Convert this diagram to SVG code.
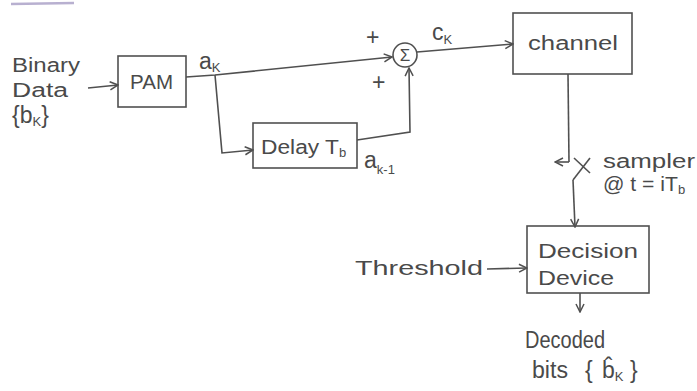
<svg xmlns="http://www.w3.org/2000/svg" width="697" height="391" viewBox="0 0 697 391">
<style>
.box{fill:none;stroke:#505050;stroke-width:1.6}
.ln{fill:none;stroke:#505050;stroke-width:1.6}
.t{font-family:"Liberation Sans",Arial,sans-serif;fill:#4a4a4a;font-size:20px}
.b{font-size:23px}
.sub{font-size:13px}
.sig{font-size:17px}
</style>
<defs>
<marker id="ah" markerWidth="10" markerHeight="10" refX="9" refY="5" orient="auto" markerUnits="userSpaceOnUse">
<path d="M1,1 L9,5 L1,9" fill="none" stroke="#505050" stroke-width="1.5"/>
</marker>
</defs>
<rect width="697" height="391" fill="#ffffff"/>
<line x1="11" y1="4" x2="74" y2="3" stroke="#b8b0d0" stroke-width="2.5"/>
<g id="input">
<text class="t" x="12" y="72" textLength="68" lengthAdjust="spacingAndGlyphs">Binary</text>
<text class="t" x="12" y="97" textLength="56" lengthAdjust="spacingAndGlyphs">Data</text>
<text class="t b" x="12" y="123">{b<tspan class="sub" dy="3">K</tspan><tspan dy="-3">}</tspan></text>
</g>
<g id="pam">
<rect class="box" x="118" y="56" width="68" height="51"/>
<text class="t" x="130" y="89" textLength="43" lengthAdjust="spacingAndGlyphs">PAM</text>
</g>
<g id="delay">
<rect class="box" x="253" y="123" width="104" height="45"/>
<text class="t" x="261" y="154"><tspan textLength="78" lengthAdjust="spacingAndGlyphs">Delay T</tspan><tspan class="sub" dy="3">b</tspan></text>
</g>
<g id="sum">
<circle class="box" cx="405" cy="55" r="12"/>
<text class="t sig" x="405" y="61" text-anchor="middle">Σ</text>
</g>
<g id="channel">
<rect class="box" x="513" y="13" width="119" height="61"/>
<text class="t" x="528" y="50" textLength="90" lengthAdjust="spacingAndGlyphs">channel</text>
</g>
<g id="decision">
<rect class="box" x="527" y="226" width="122" height="67"/>
<text class="t" x="538" y="258" textLength="100" lengthAdjust="spacingAndGlyphs">Decision</text>
<text class="t" x="538" y="285" textLength="76" lengthAdjust="spacingAndGlyphs">Device</text>
</g>
<g id="connectors">
<line class="ln" x1="88" y1="88" x2="118" y2="85" marker-end="url(#ah)"/>
<polyline class="ln" points="186,77 215,75 392,57" marker-end="url(#ah)"/>
<polyline class="ln" points="215,75 222,153 253,150" marker-end="url(#ah)"/>
<polyline class="ln" points="357,140 410,132 409,68" marker-end="url(#ah)"/>
<line class="ln" x1="417" y1="52" x2="513" y2="44" marker-end="url(#ah)"/>
<line class="ln" x1="568" y1="74" x2="569" y2="162"/>
<line class="ln" x1="569" y1="162" x2="555" y2="162" marker-end="url(#ah)"/>
<line class="ln" x1="574" y1="158" x2="590" y2="173"/>
<line class="ln" x1="590" y1="158" x2="573" y2="180"/>
<line class="ln" x1="573" y1="180" x2="575" y2="227" marker-end="url(#ah)"/>
<line class="ln" x1="487" y1="269" x2="527" y2="268" marker-end="url(#ah)"/>
<line class="ln" x1="580" y1="293" x2="580" y2="312" marker-end="url(#ah)"/>
</g>
<g id="labels">
<text class="t b" x="199" y="69">a<tspan class="sub" dy="3">K</tspan></text>
<text class="t b" x="366" y="45">+</text>
<text class="t b" x="372" y="90">+</text>
<text class="t b" x="432" y="40">c<tspan class="sub" dy="4">K</tspan></text>
<text class="t b" x="364" y="168">a<tspan class="sub" dy="6">k-1</tspan></text>
<text class="t" x="603" y="168" textLength="92" lengthAdjust="spacingAndGlyphs">sampler</text>
<text class="t" x="603" y="191"><tspan textLength="75" lengthAdjust="spacingAndGlyphs">@ t = iT</tspan><tspan class="sub" dy="3">b</tspan></text>
<text class="t" x="355" y="275" textLength="128" lengthAdjust="spacingAndGlyphs">Threshold</text>
<text class="t b" x="525" y="348" textLength="80" lengthAdjust="spacingAndGlyphs">Decoded</text>
<text class="t b" x="532" y="378"><tspan textLength="36" lengthAdjust="spacingAndGlyphs">bits</tspan><tspan x="585">{</tspan><tspan x="602">b̂</tspan><tspan class="sub" dy="3">K</tspan><tspan x="630" dy="-3">}</tspan></text>
</g>
</svg>
